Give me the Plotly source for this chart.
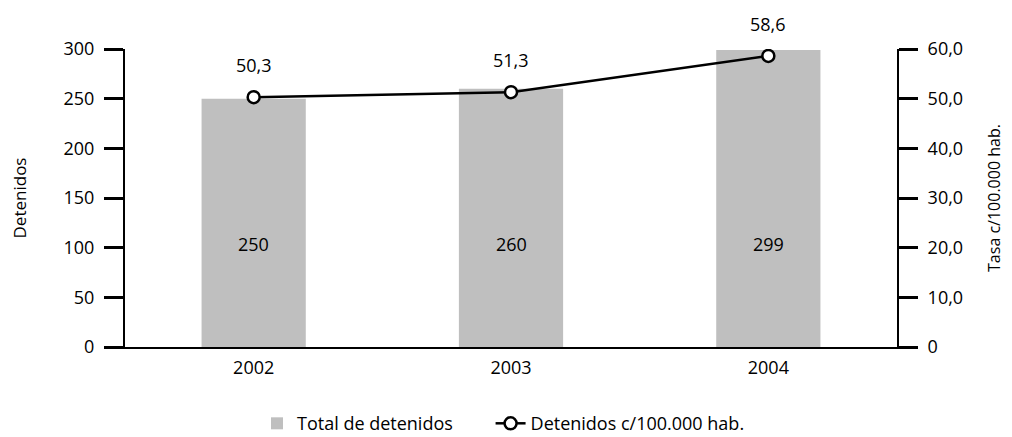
import plotly.graph_objects as go

years = ["2002", "2003", "2004"]
detenidos = [250, 260, 299]
tasa = [50.3, 51.3, 58.6]
tasa_labels = ["50,3", "51,3", "58,6"]
y_ticks = [0, 50, 100, 150, 200, 250, 300]
y2_ticks = [0, 10, 20, 30, 40, 50, 60]
y2_ticktext = ["0", "10,0", "20,0", "30,0", "40,0", "50,0", "60,0"]
bar_name = "Total de detenidos"
line_name = "Detenidos c/100.000 hab."

FONT = "Open Sans"
FS = 18

fig = go.Figure()
fig.add_trace(go.Bar(
    x=years, y=detenidos, name=bar_name + "\u00a0" * 7,
    marker=dict(color="#bfbfbf", line=dict(width=0)),
    width=0.405,
))
fig.add_trace(go.Scatter(
    x=years, y=tasa, name=line_name, yaxis="y2",
    mode="lines+markers",
    line=dict(color="black", width=2.5),
    marker=dict(symbol="circle", size=12, color="white",
                line=dict(color="black", width=2.5)),
))

annotations = []
for i, v in enumerate(detenidos):
    annotations.append(dict(x=i, y=104, xref="x", yref="y", text=str(v),
                            showarrow=False, font=dict(family=FONT, size=FS, color="black")))
for i, (v, t) in enumerate(zip(tasa, tasa_labels)):
    annotations.append(dict(x=i, y=v, xref="x", yref="y2", text=t, yshift=32,
                            showarrow=False, font=dict(family=FONT, size=FS, color="black")))

fig.update_layout(
    width=1012, height=437,
    margin=dict(l=117, r=123, t=41, b=98, autoexpand=False),
    paper_bgcolor="white", plot_bgcolor="white",
    font=dict(family=FONT, size=FS, color="black"),
    showlegend=True,
    legend=dict(orientation="h", x=0.171, xanchor="left", y=-0.195, yanchor="top",
                font=dict(family=FONT, size=FS), traceorder="normal"),
    xaxis=dict(type="category", range=[-0.5, 2.5], showline=True, linecolor="black",
               linewidth=2, ticks="", tickfont=dict(family=FONT, size=FS), showgrid=False,
               zeroline=False, ticklabelstandoff=3, automargin=False),
    yaxis=dict(range=[0, 300], tickvals=y_ticks, showline=True, linecolor="black",
               linewidth=2, ticks="outside", ticklen=19, tickwidth=2.5, tickcolor="black",
               showgrid=False, zeroline=False, ticklabelstandoff=6, automargin=False,
               title=dict(text="Detenidos", font=dict(family=FONT, size=17), standoff=37)),
    yaxis2=dict(range=[0, 60], tickvals=y2_ticks, ticktext=y2_ticktext, overlaying="y",
                side="right", showline=True, linecolor="black", linewidth=2,
                ticks="outside", ticklen=19, tickwidth=2.5, tickcolor="black",
                showgrid=False, zeroline=False, ticklabelstandoff=6, automargin=False,
                title=dict(text="Tasa c/100.000 hab.", font=dict(family=FONT, size=16), standoff=27)),
    annotations=annotations,
)

fig.write_html("out.html")
